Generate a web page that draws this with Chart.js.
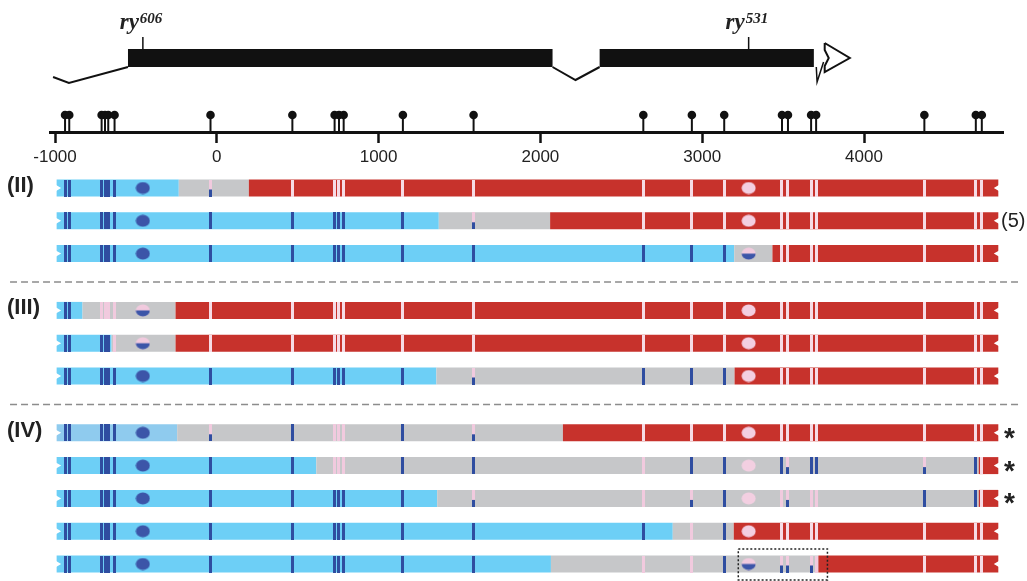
<!DOCTYPE html>
<html>
<head>
<meta charset="utf-8">
<script src="https://cdn.jsdelivr.net/npm/chart.js@4.4.1/dist/chart.umd.min.js"></script>
<style>
  html, body { margin: 0; padding: 0; background: #fff; }
  canvas { display: block; }
</style>
</head>
<body>
<canvas id="chart" width="1027" height="581"></canvas>
<script>
// coordinates are bp relative to the transcription start
const axisTicks = [-1000, 0, 1000, 2000, 3000, 4000];
const snpPositions = [-938, -912, -712, -691, -671, -632, -39, 467, 728, 755, 784,
  1150, 1587, 2636, 2936, 3136, 3493, 3530, 3673, 3704, 4373, 4691, 4728];
const alleleNames = ['606', '531'];
const allelePositions = [-457, 3287];

// gene model
const exons = [[-549, 2075], [2366, 3690]];
const upstreamLine = [-1012, -914, -549];
const intron = [2075, 2217, 2366];
const exonEndDip = [3705, 3710, 3750];
const utr3 = [3757, 3912];

// haplotypes: b = blue, l = pale blue, g = grey, r = red
const groupLabels = ['(II)', '(III)', '(IV)'];
const rowGroups = [0, 0, 0, 1, 1, 1, 2, 2, 2, 2, 2];
const rowSegments = [
  [['b', -990, -235], ['g', -235, 198], ['r', 198, 4830]],
  [['b', -990, 1372], ['g', 1372, 2060], ['r', 2060, 4830]],
  [['b', -990, 3198], ['g', 3198, 3434], ['r', 3434, 4830]],
  [['b', -990, -830], ['g', -830, -255], ['r', -255, 4830]],
  [['b', -990, -650], ['g', -650, -255], ['r', -255, 4830]],
  [['b', -990, 1357], ['g', 1357, 3200], ['r', 3200, 4830]],
  [['l', -990, -245], ['g', -245, 2139], ['r', 2139, 4830]],
  [['b', -990, 615], ['g', 615, 4709], ['r', 4709, 4830]],
  [['b', -990, 1362], ['g', 1362, 4709], ['r', 4709, 4830]],
  [['b', -990, 2818], ['g', 2818, 3195], ['r', 3195, 4830]],
  [['b', -990, 2065], ['g', 2065, 3718], ['r', 3718, 4830]],
];
// one code per SNP: b = blue, w = white, p = pink, h = pink over blue
const rowMarks = [
  'bbbbbbhwwwwwwwwwwwwwwww',
  'bbbbbbbbbbbbhwwwwwwwwww',
  'bbbbbbbbbbbbbbbbwwwwwww',
  'bbppppwwwwwwwwwwwwwwwww',
  'bbbbbpwwwwwwwwwwwwwwwww',
  'bbbbbbbbbbbbhbbbwwwwwww',
  'bbbbbbhbpppbhwwwwwwwwww',
  'bbbbbbbbpppbbpbbbhbbhbw',
  'bbbbbbbbbbbbhphbphppbbw',
  'bbbbbbbbbbbbbbpbwwwwwww',
  'bbbbbbbbbbbbbppbhhhpwww',
];
// allele dots (606, 531): B = blue, P = pink, H = half
const rowDots = ['BP', 'BP', 'BH', 'HP', 'HP', 'BP', 'BP', 'BP', 'BP', 'BP', 'BH'];
const rowNotes = ['', '(5)', '', '', '', '', '*', '*', '*', '', ''];
const boxedRow = 10;
const boxedRange = [3223, 3774];

// layout
const W = 1027, H = 581;
const AREA_LEFT = 50, AREA_RIGHT = 1003;
const X_MIN = -1031, X_MAX = 4859;
const AXIS_Y = 132;
const EXON_Y = 58, EXON_H = 18, EXON_BOTTOM = EXON_Y + EXON_H / 2;
const ROW0 = 188, ROW_STEP = 32.8, GROUP_GAP = 24, BAR_H = 17;
const rowY = rowGroups.map((g, i) => ROW0 + i * ROW_STEP + g * GROUP_GAP);

const BLUE = '#6dcff6', PALE = '#8fcbee', GREY = '#c6c7c9', RED = '#c7322c';
const DARK = '#2f4da0', PINK = '#f1cade', WHITE = '#f6dbe5';
const segColor = { b: BLUE, l: PALE, g: GREY, r: RED };
const FONT = '"Liberation Sans", Arial, sans-serif';

function markImage(top, bottom) {
  const c = document.createElement('canvas');
  c.width = 3; c.height = BAR_H;
  const g = c.getContext('2d');
  g.fillStyle = top; g.fillRect(0, 0, 3, BAR_H);
  if (bottom) { g.fillStyle = bottom; g.fillRect(0, 10, 3, BAR_H - 10); }
  return c;
}
function dotImage(top, bottom) {
  const c = document.createElement('canvas');
  c.width = 15; c.height = 13;
  const g = c.getContext('2d');
  g.fillStyle = top;
  g.beginPath(); g.ellipse(7.5, 6.5, 7, 6, 0, 0, Math.PI * 2); g.fill();
  if (bottom) {
    g.fillStyle = bottom;
    g.beginPath(); g.ellipse(7.5, 6.5, 7, 6, 0, 0, Math.PI); g.fill();
  }
  return c;
}
const markStyles = { b: markImage(DARK), w: markImage(WHITE), p: markImage(PINK), h: markImage(PINK, DARK) };
const dotStyles = { B: dotImage('#3c55a8'), P: dotImage('#f3cfe1'), H: dotImage('#f1cade', '#3c55a8') };

const datasets = [];
const line = (pts, color, width, extra) => datasets.push(Object.assign({
  data: pts.map(([x, y]) => ({ x, y })), showLine: true, borderColor: color, borderWidth: width,
  borderCapStyle: 'butt', borderJoinStyle: 'miter', pointRadius: 0, fill: false
}, extra || {}));
const points = (pts, style, extra) => datasets.push(Object.assign({
  data: pts.map(([x, y]) => ({ x, y })), showLine: false, pointStyle: style, pointRadius: 3,
  pointBorderWidth: 0
}, extra || {}));

// gene model
exons.forEach(([a, b]) => line([[a, EXON_Y], [b, EXON_Y]], '#111', EXON_H));
line(upstreamLine.map((x, i) => [x, EXON_BOTTOM + [10, 16, 0][i]]), '#111', 2);
line(intron.map((x, i) => [x, EXON_BOTTOM + [0, 13, 0][i]]), '#111', 2);
line(exonEndDip.map((x, i) => [x, EXON_BOTTOM + [0, 15, -5][i]]), '#111', 1.5);
line([[utr3[0], EXON_Y - 15], [utr3[1], EXON_Y], [utr3[0], EXON_Y + 14], [utr3[0], EXON_Y + 8],
  [utr3[0] + 25, EXON_Y], [utr3[0], EXON_Y - 8], [utr3[0], EXON_Y - 15]], '#111', 2);
allelePositions.forEach(x => line([[x, EXON_Y - EXON_H / 2 - 12], [x, EXON_Y - EXON_H / 2]], '#111', 1.5));

// SNP lollipops
points(snpPositions.map(x => [x, AXIS_Y - 8.5]), 'line',
  { pointRadius: 8.5, rotation: 90, pointBorderWidth: 2, pointBorderColor: '#111' });
points(snpPositions.map(x => [x, AXIS_Y - 17]), 'circle',
  { pointRadius: 4.3, pointBackgroundColor: '#111' });

// group separators
[1, 2].forEach(g => {
  const first = rowGroups.indexOf(g);
  const y = (rowY[first - 1] + rowY[first]) / 2;
  line([[-1278, y], [4962, y]], '#8c8c8c', 1.5, { borderDash: [7, 4], clip: false });
});

// haplotype bars
rowSegments.forEach((segs, r) => {
  segs.forEach(([c, a, b]) => line([[a, rowY[r]], [b, rowY[r]]], segColor[c], BAR_H));
});
Object.keys(markStyles).forEach(code => {
  const pts = [];
  rowMarks.forEach((m, r) => snpPositions.forEach((x, i) => { if (m[i] === code) pts.push([x, rowY[r]]); }));
  points(pts, markStyles[code]);
});
Object.keys(dotStyles).forEach(code => {
  const pts = [];
  rowDots.forEach((d, r) => allelePositions.forEach((x, i) => { if (d[i] === code) pts.push([x, rowY[r]]); }));
  points(pts, dotStyles[code]);
});
// broken ends
points(rowSegments.map((s, r) => [s[0][1], rowY[r]]), 'triangle',
  { pointRadius: 4.5, rotation: 90, pointBackgroundColor: '#fff' });
points(rowSegments.map((s, r) => [s[s.length - 1][2], rowY[r]]), 'triangle',
  { pointRadius: 4.5, rotation: -90, pointBackgroundColor: '#fff' });
// dotted box
const by = rowY[boxedRow];
line([[boxedRange[0], by - 15], [boxedRange[1], by - 15], [boxedRange[1], by + 16],
  [boxedRange[0], by + 16], [boxedRange[0], by - 15]], '#222', 1.5, { borderDash: [2, 2], clip: false });

// later datasets on top
datasets.forEach((d, i) => { d.order = datasets.length - i; });

const textPlugin = {
  id: 'texts',
  afterDraw(chart) {
    const { ctx, scales: { x, y } } = chart;
    ctx.save();
    ctx.fillStyle = '#222';
    ctx.textBaseline = 'middle';
    ctx.font = 'bold 22px ' + FONT;
    groupLabels.forEach((lab, g) => {
      ctx.fillText(lab, 7, y.getPixelForValue(rowY[rowGroups.indexOf(g)]) - 2);
    });
    rowNotes.forEach((n, r) => {
      if (!n) return;
      const py = y.getPixelForValue(rowY[r]);
      if (n === '*') {
        ctx.font = 'bold 28px ' + FONT;
        ctx.textBaseline = 'alphabetic';
        ctx.fillText(n, 1004, py + 14);
      } else {
        ctx.font = '20px ' + FONT;
        ctx.textBaseline = 'middle';
        ctx.fillText(n, 1001, py + 1);
      }
    });
    ctx.textBaseline = 'alphabetic';
    alleleNames.forEach((nm, i) => {
      const px = x.getPixelForValue(allelePositions[i]);
      ctx.font = 'italic bold 23px "Liberation Serif", "Times New Roman", serif';
      const w = ctx.measureText('ry').width;
      ctx.fillText('ry', px - w - 4, 29);
      ctx.font = 'italic bold 15px "Liberation Serif", "Times New Roman", serif';
      ctx.fillText(nm, px - 3, 23);
    });
    ctx.restore();
  }
};

new Chart(document.getElementById('chart'), {
  type: 'scatter',
  data: { datasets },
  options: {
    responsive: false,
    devicePixelRatio: 1,
    animation: false,
    events: [],
    layout: { autoPadding: false, padding: { left: AREA_LEFT, right: W - AREA_RIGHT, top: 0, bottom: 0 } },
    plugins: { legend: { display: false }, tooltip: { enabled: false } },
    scales: {
      x: {
        type: 'linear', min: X_MIN, max: X_MAX, position: { y: AXIS_Y },
        border: { display: true, color: '#111', width: 3 },
        grid: { drawOnChartArea: false, drawTicks: true, tickLength: 9, tickWidth: 2.5, tickColor: '#111' },
        afterBuildTicks: s => { s.ticks = axisTicks.map(v => ({ value: v })); },
        ticks: {
          autoSkip: false, maxRotation: 0, padding: 6, color: '#222',
          font: { family: FONT, size: 17 }, callback: v => String(v)
        }
      },
      y: { type: 'linear', min: 0, max: H, reverse: true, display: false }
    }
  },
  plugins: [textPlugin]
});
</script>
</body>
</html>
